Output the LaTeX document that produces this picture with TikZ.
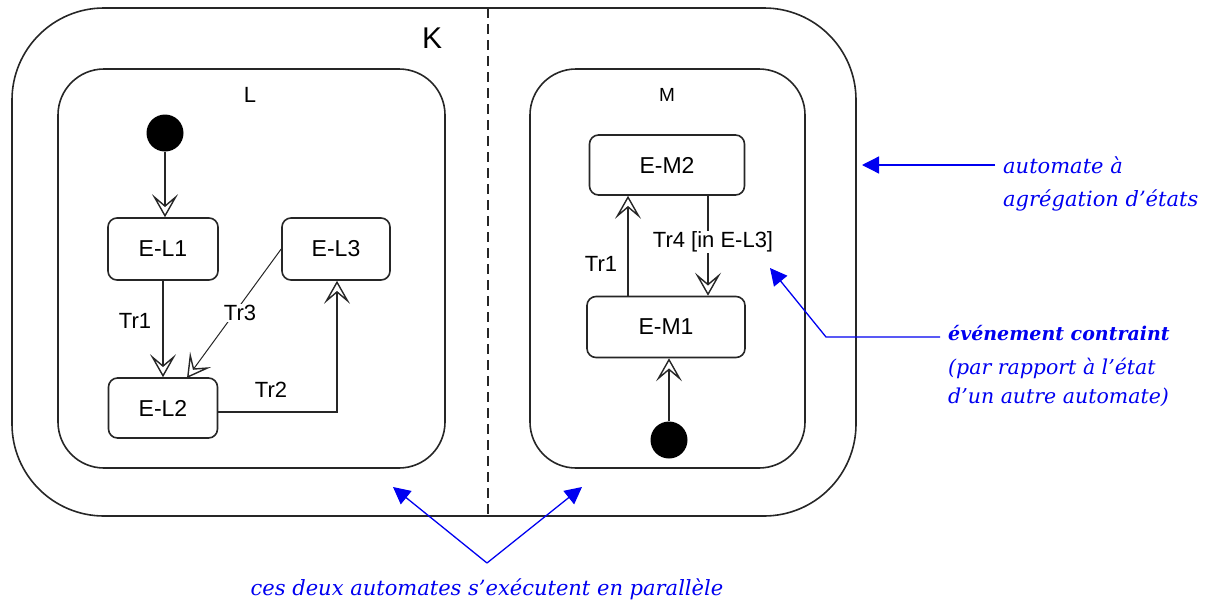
\documentclass[tikz,border=0pt]{standalone}
\usepackage{fontspec}
\setmainfont{Liberation Sans}
\newfontfamily\notefont{DejaVu Serif}
\usetikzlibrary{arrows.meta,positioning}
\definecolor{noteblue}{RGB}{0,0,240}
\tikzset{
  region/.style={draw=black!85, line width=1.6pt},
  statebox/.style={draw=black!85, line width=1.6pt, rounded corners=9pt, font=\fontsize{23}{25}\selectfont, inner sep=0pt},
  initdot/.style={circle, fill=black, minimum size=37pt, inner sep=0pt},
  trans/.style={draw=black!85, line width=1.6pt, -{Stealth[open, length=23pt, width=26pt, inset=11pt, line width=1.4pt]}},
  tlabel/.style={font=\fontsize{22}{24}\selectfont, inner sep=2pt},
  note/.style={text=noteblue, font=\notefont\itshape\fontsize{21}{33}\selectfont, align=left, inner sep=0pt, anchor=west},
  notearrow/.style={draw=noteblue, line width=1.3pt, -{Triangle[length=17pt, width=17pt]}}
}
\begin{document}
\begin{tikzpicture}[x=1pt, y=-1pt]
\useasboundingbox (0,0) rectangle (1215,603);

% composite state K with its two concurrent regions
\draw[region, rounded corners=92pt] (12,8) rectangle (856,516);
\draw[region, dashed, dash pattern=on 10pt off 6pt, line width=1.3pt] (488,8) -- (488,516);
\node[font=\fontsize{30}{32}\selectfont] (K) at (432,38) {K};

\draw[region, rounded corners=46pt] (58,69) rectangle (445,468);
\node[font=\fontsize{22}{24}\selectfont] (L) at (250,95) {L};
\draw[region, rounded corners=46pt] (530,69) rectangle (805,468);
\node[font=\fontsize{19}{21}\selectfont] (M) at (667,95) {M};

% region L
\node[initdot] (iL) at (165,133) {};
\node[statebox, minimum width=110pt, minimum height=62pt] (EL1) at (163,249) {E-L1};
\node[statebox, minimum width=108pt, minimum height=62pt] (EL3) at (336,249) {E-L3};
\node[statebox, minimum width=109pt, minimum height=60pt] (EL2) at (163,408) {E-L2};

\draw[trans] (iL) -- (EL1.north -| iL);
\draw[trans] (EL1) -- (EL2);
\node[tlabel] (tr1L) at (135,321) {Tr1};
\coordinate (tr3s) at (EL3.west);
\coordinate (tr3e) at (187,378);
\draw[trans, line width=1pt] (tr3s) -- (tr3e);
\node[tlabel, fill=white, inner sep=1pt] (tr3) at (240,313) {Tr3};
\coordinate (tr2c) at (337,412);
\draw[trans] (EL2.east |- tr2c) -- (tr2c) -- (EL3.south -| tr2c);
\node[tlabel] (tr2) at (271,390) {Tr2};

% region M
\node[statebox, minimum width=155pt, minimum height=60pt] (EM2) at (667,165) {E-M2};
\node[statebox, minimum width=158pt, minimum height=61pt] (EM1) at (666,327) {E-M1};
\node[initdot] (iM) at (669,440) {};

\draw[trans] (iM) -- (EM1.south -| iM);
\coordinate (tr1M) at (628,0);
\draw[trans] (EM1.north -| tr1M) -- (EM2.south -| tr1M);
\node[tlabel] (tr1Mlab) at (601,264) {Tr1};
\coordinate (tr4M) at (708,0);
\draw[trans] (EM2.south -| tr4M) -- (EM1.north -| tr4M);
\node[tlabel, fill=white, inner sep=1pt] (tr4) at (713,242) {Tr4 [in E-L3]};

% annotations
\node[note] (n1) at (1003,184) {automate à\\agrégation d’états};
\coordinate (n1tip) at (862,165);
\draw[notearrow] (995,165) -- (n1tip);

\node[note, anchor=north west, font=\notefont\itshape\fontsize{20.5}{29}\selectfont] (n2) at (948,325) {{\bfseries\fontsize{19}{29}\selectfont événement contraint}\\[5pt](par rapport à l’état\\d’un autre automate)};
\coordinate (n2bend) at (826,337);
\coordinate (n2tip) at (770,268);
\draw[notearrow] (940,337) -- (n2bend) -- (n2tip);

\node[note, anchor=center] (n3) at (487,589) {ces deux automates s’exécutent en parallèle};
\coordinate (n3v) at (487,563);
\coordinate (n3l) at (393,487);
\coordinate (n3r) at (582,487);
\draw[notearrow] (n3v) -- (n3l);
\draw[notearrow] (n3v) -- (n3r);
\end{tikzpicture}
\end{document}
